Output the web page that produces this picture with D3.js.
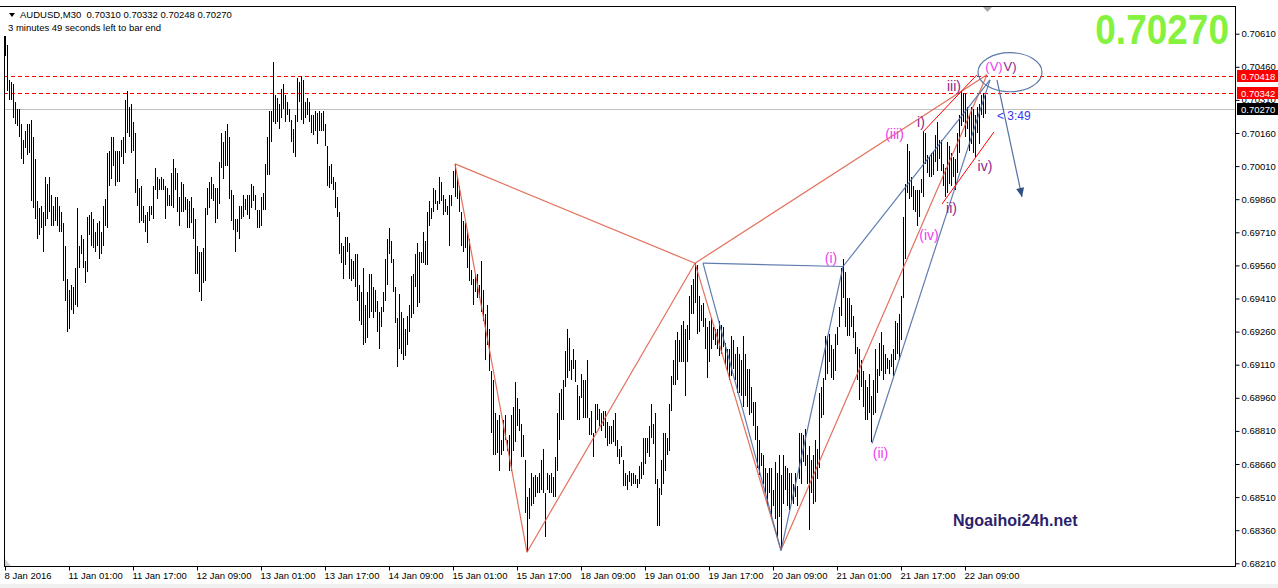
<!DOCTYPE html>
<html><head><meta charset="utf-8">
<script src="https://cdn.jsdelivr.net/npm/d3@7"></script>
<style>
html,body{margin:0;padding:0;background:#fff;overflow:hidden;}
svg{display:block;}
text{font-family:"Liberation Sans",Arial,sans-serif;}
</style></head><body>
<svg id="c" width="1278" height="588"></svg>
<script>
// ---- data (AUDUSD M30, bar highs / lows) ----
const highs = [
0.7060,0.7056,0.7040,0.7039,0.7038,0.7030,0.7027,0.7027,0.7020,0.7013,
0.7017,0.7020,0.7020,0.7022,0.7014,0.7004,0.6985,0.6982,0.6983,0.6980,
0.6996,0.6993,0.6996,0.6988,0.6983,0.6987,0.6987,0.6983,0.6980,0.6975,
0.6965,0.6950,0.6945,0.6947,0.6946,0.6955,0.6982,0.6965,0.6970,0.6968,
0.6958,0.6978,0.6979,0.6980,0.6977,0.6971,0.6975,0.6976,0.6971,0.6983,
0.6986,0.7007,0.7008,0.7014,0.7014,0.7008,0.7008,0.7008,0.7013,0.7014,
0.7031,0.7035,0.7028,0.7029,0.7021,0.7016,0.6995,0.6991,0.6992,0.6983,
0.6979,0.6980,0.6983,0.6983,0.6992,0.7000,0.6996,0.6995,0.6996,0.6995,
0.6992,0.6991,0.6988,0.6998,0.7004,0.7000,0.6998,0.6987,0.6994,0.6993,
0.6987,0.6986,0.6985,0.6987,0.6982,0.6977,0.6965,0.6962,0.6962,0.6964,
0.6982,0.6991,0.6994,0.6996,0.6993,0.6991,0.6991,0.7003,0.7016,0.7012,
0.7017,0.7020,0.7014,0.6990,0.6988,0.6977,0.6977,0.6983,0.6983,0.6988,
0.6986,0.6988,0.6988,
0.6993,0.6992,0.6988,0.6981,0.6981,0.6987,0.6989,0.7002,0.7014,0.7026,
0.7026,0.7048,0.7033,0.7032,0.7029,0.7036,0.7038,0.7033,0.7030,0.7027,
0.7022,0.7018,0.7024,0.7041,0.7039,0.7042,0.7040,0.7030,0.7032,0.7030,
0.7024,0.7024,0.7026,0.7025,0.7026,0.7025,0.7026,0.7020,0.7010,0.7001,
0.7002,0.6996,0.6994,0.6987,0.6980,0.6966,0.6965,0.6969,0.6969,0.6966,
0.6959,0.6958,0.6961,0.6961,0.6947,0.6944,0.6955,0.6938,0.6944,0.6952,
0.6952,0.6946,0.6945,0.6940,0.6935,0.6937,0.6944,0.6959,0.6968,0.6973,
0.6967,0.6959,0.6946,0.6932,0.6943,0.6935,0.6932,0.6927,0.6933,0.6938,
0.6951,0.6952,0.6961,0.6966,0.6962,0.6962,0.6971,0.6967,0.6980,0.6985,
0.6982,0.6991,0.6990,0.6985,0.6996,0.6994,0.6988,0.6986,0.6983,0.6988,
0.6988,0.6999,0.7002,0.6996,0.6992,0.6980,0.6976,0.6975,0.6972,0.6968,
0.6954,0.6950,0.6952,0.6952,0.6947,0.6958,0.6945,0.6934,0.6938,0.6927,
0.6908,0.6904,0.6889,0.6886,0.6888,0.6877,0.6886,0.6888,0.6877,0.6879,
0.6888,0.6892,0.6903,0.6896,0.6891,0.6884,0.6879,0.6868,0.6851,0.6855,
0.6862,0.6860,0.6861,0.6860,0.6862,0.6868,0.6873,0.6853,0.6862,0.6861,
0.6862,0.6860,0.6869,0.6889,0.6898,0.6900,0.6904,0.6917,0.6927,0.6923,
0.6913,0.6918,0.6913,0.6902,0.6897,0.6907,0.6904,0.6904,0.6913,0.6887,
0.6890,0.6880,0.6893,0.6893,0.6891,0.6889,0.6890,0.6890,0.6885,0.6883,
0.6883,0.6886,0.6889,0.6877,0.6873,0.6874,0.6868,0.6862,0.6861,0.6863,
0.6862,0.6862,0.6861,0.6859,0.6865,0.6867,0.6878,0.6878,0.6878,0.6883,
0.6893,0.6884,0.6889,0.6859,0.6855,0.6868,0.6880,0.6880,0.6878,0.6893,
0.6906,0.6913,0.6922,0.6926,0.6922,0.6929,0.6931,0.6927,0.6929,0.6942,
0.6947,0.6950,0.6957,0.6956,0.6942,0.6938,0.6939,0.6932,0.6928,0.6931,
0.6932,0.6928,0.6927,0.6927,0.6931,0.6929,0.6928,0.6921,0.6918,0.6918,
0.6924,0.6922,0.6916,0.6919,0.6916,0.6913,0.6924,0.6916,0.6909,0.6909,
0.6901,0.6894,0.6894,0.6883,0.6877,0.6871,0.6870,0.6864,0.6862,0.6864,
0.6864,0.6854,0.6867,0.6862,0.6870,0.6861,0.6870,0.6865,0.6864,0.6862,
0.6862,0.6857,0.6862,0.6856,0.6880,0.6880,0.6879,0.6882,0.6870,0.6874,
0.6868,0.6870,0.6877,0.6873,0.6898,0.6901,0.6905,0.6924,0.6924,0.6925,
0.6920,0.6918,0.6925,0.6928,0.6937,0.6955,0.6959,0.6953,0.6941,0.6941,
0.6938,0.6933,0.6926,0.6919,0.6918,0.6913,0.6908,0.6904,0.6901,0.6907,
0.6897,0.6904,0.6918,0.6909,0.6921,0.6926,0.6920,0.6916,0.6914,0.6913,
0.6916,0.6918,0.6931,0.6930,0.6934,0.6942,0.6978,0.6993,0.7011,0.7008,
0.6996,0.6992,0.6990,0.6990,0.6990,0.6995,0.7017,0.7016,0.7006,0.7005,
0.7007,0.7008,0.7015,0.7021,0.7013,0.7013,0.7002,0.7000,0.7012,0.7010,
0.7007,0.7005,0.7004,0.7016,0.7024,0.7035,0.7034,0.7034,0.7028,0.7024,
0.7028,0.7027,0.7024,0.7028,0.7029,0.7033,0.7034,0.70332
];
const lows = [
0.7051,0.7035,0.7031,0.7031,0.7023,0.7020,0.7019,0.7014,0.7004,0.7002,
0.7009,0.7006,0.7007,0.6985,0.6982,0.6977,0.6968,0.6970,0.6973,0.6962,
0.6974,0.6977,0.6980,0.6974,0.6974,0.6976,0.6974,0.6971,0.6971,0.6949,
0.6940,0.6926,0.6927,0.6936,0.6934,0.6938,0.6937,0.6955,0.6961,0.6955,
0.6948,0.6953,0.6970,0.6965,0.6964,0.6962,0.6965,0.6959,0.6961,0.6965,
0.6974,0.6973,0.6992,0.6995,0.7001,0.6992,0.6994,0.6994,0.7005,0.7002,
0.7007,0.7016,0.7014,0.7007,0.7008,0.6989,0.6983,0.6975,0.6976,0.6975,
0.6971,0.6966,0.6976,0.6979,0.6977,0.6990,0.6986,0.6990,0.6990,0.6990,
0.6977,0.6983,0.6983,0.6983,0.6982,0.6990,0.6980,0.6974,0.6980,0.6980,
0.6981,0.6973,0.6973,0.6975,0.6968,0.6952,0.6952,0.6944,0.6940,0.6948,
0.6949,0.6979,0.6982,0.6986,0.6985,0.6975,0.6977,0.6984,0.7000,0.6995,
0.7001,0.7001,0.6986,0.6976,0.6972,0.6962,0.6971,0.6968,0.6977,0.6978,
0.6981,0.6979,0.6977,
0.6982,0.6985,0.6981,0.6973,0.6973,0.6974,0.6981,0.6981,0.6997,0.6997,
0.7012,0.7021,0.7020,0.7021,0.7018,0.7023,0.7027,0.7021,0.7024,0.7021,
0.7012,0.7007,0.7005,0.7021,0.7030,0.7022,0.7020,0.7023,0.7024,0.7021,
0.7016,0.7015,0.7017,0.7011,0.7017,0.7017,0.7017,0.7010,0.6992,0.6991,
0.6993,0.6990,0.6982,0.6978,0.6961,0.6957,0.6950,0.6956,0.6962,0.6950,
0.6949,0.6950,0.6946,0.6940,0.6931,0.6929,0.6920,0.6921,0.6923,0.6932,
0.6935,0.6932,0.6935,0.6926,0.6918,0.6928,0.6935,0.6940,0.6947,0.6961,
0.6957,0.6944,0.6930,0.6910,0.6918,0.6916,0.6913,0.6915,0.6920,0.6926,
0.6932,0.6934,0.6946,0.6937,0.6939,0.6957,0.6957,0.6956,0.6956,0.6974,
0.6977,0.6980,0.6984,0.6981,0.6984,0.6985,0.6979,0.6980,0.6979,0.6965,
0.6983,0.6991,0.6987,0.6986,0.6980,0.6965,0.6962,0.6964,0.6955,0.6949,
0.6947,0.6938,0.6944,0.6941,0.6941,0.6935,0.6931,0.6913,0.6920,0.6908,
0.6880,0.6870,0.6870,0.6871,0.6863,0.6870,0.6872,0.6877,0.6872,0.6863,
0.6863,0.6872,0.6876,0.6883,0.6881,0.6869,0.6869,0.6844,0.6826,0.6841,
0.6847,0.6848,0.6851,0.6853,0.6853,0.6854,0.6853,0.6833,0.6854,0.6853,
0.6853,0.6851,0.6851,0.6863,0.6877,0.6886,0.6886,0.6901,0.6905,0.6908,
0.6904,0.6909,0.6903,0.6886,0.6886,0.6896,0.6887,0.6887,0.6887,0.6879,
0.6879,0.6869,0.6880,0.6886,0.6883,0.6881,0.6883,0.6878,0.6874,0.6875,
0.6875,0.6876,0.6874,0.6869,0.6866,0.6869,0.6856,0.6856,0.6854,0.6858,
0.6856,0.6857,0.6857,0.6855,0.6857,0.6859,0.6861,0.6866,0.6871,0.6869,
0.6878,0.6875,0.6857,0.6838,0.6838,0.6852,0.6857,0.6863,0.6870,0.6872,
0.6890,0.6902,0.6902,0.6904,0.6912,0.6912,0.6912,0.6897,0.6912,0.6922,
0.6934,0.6934,0.6939,0.6925,0.6926,0.6931,0.6928,0.6918,0.6905,0.6912,
0.6918,0.6922,0.6920,0.6918,0.6915,0.6916,0.6919,0.6911,0.6908,0.6904,
0.6906,0.6909,0.6904,0.6898,0.6898,0.6897,0.6892,0.6897,0.6892,0.6888,
0.6889,0.6883,0.6877,0.6864,0.6861,0.6865,0.6857,0.6853,0.6847,0.6853,
0.6842,0.6847,0.6841,0.6832,0.6842,0.6828,0.6848,0.6854,0.6847,0.6845,
0.6848,0.6848,0.6851,0.6847,0.6859,0.6857,0.6867,0.6865,0.6857,0.6836,
0.6853,0.6848,0.6849,0.6859,0.6864,0.6887,0.6888,0.6904,0.6907,0.6912,
0.6905,0.6904,0.6908,0.6920,0.6928,0.6933,0.6941,0.6928,0.6924,0.6924,
0.6928,0.6923,0.6916,0.6904,0.6895,0.6901,0.6892,0.6886,0.6886,0.6889,
0.6876,0.6888,0.6889,0.6898,0.6906,0.6908,0.6904,0.6907,0.6909,0.6907,
0.6910,0.6906,0.6913,0.6916,0.6913,0.6922,0.6941,0.6959,0.6989,0.6986,
0.6987,0.6981,0.6980,0.6974,0.6978,0.6989,0.6987,0.7002,0.6998,0.6996,
0.6996,0.6997,0.7003,0.6999,0.7004,0.6999,0.6992,0.6987,0.6989,0.6993,
0.6992,0.6996,0.6990,0.6998,0.7007,0.7019,0.7021,0.7014,0.7018,0.7008,
0.7011,0.7007,0.7005,0.7016,0.7011,0.7024,0.7023,0.70248
];
const timeLabels = ["8 Jan 2016","11 Jan 01:00","11 Jan 17:00","12 Jan 09:00","13 Jan 01:00",
  "13 Jan 17:00","14 Jan 09:00","15 Jan 01:00","15 Jan 17:00","18 Jan 09:00","19 Jan 01:00",
  "19 Jan 17:00","20 Jan 09:00","21 Jan 01:00","21 Jan 17:00","22 Jan 09:00"];
const timeTickBars = [0,32,64,96,128,160,192,224,256,288,320,352,384,416,448,480];
const priceTicks = [0.70610,0.70460,0.70310,0.70160,0.70010,0.69860,0.69710,0.69560,0.69410,
  0.69260,0.69110,0.68960,0.68810,0.68660,0.68510,0.68360,0.68210];
const headerText = "AUDUSD,M30  0.70310 0.70332 0.70248 0.70270";
const timerText = "3 minutes 49 seconds left to bar end";
const lastPrice = 0.70270;
const levelPrices = [0.70418, 0.70342];
// harmonic pattern X A B C D  (bar index, price)
const redPattern = [[225,0.70020],[261,0.68260],[345,0.69570],[388,0.68270],[491,0.70424]];
// blue pattern points: B', C, (i), (ii), end
const bluePattern = [[349,0.69570],[388,0.68267],[419,0.69555],[433.5,0.68753],[492.5,0.70401]];
// bright red channel segments
const channelLines = [[[459,0.70165],[486,0.70424]],[[468.5,0.69838],[494.5,0.70165]]];
const arrowLine = [[496,0.70400],[508.5,0.69870]];
const ellipseBox = [[486.5,0.70347],[518.5,0.70524]];
const waveLabels = [
  {t:"(i)",b:413,p:0.69595,c:"#f03cf0",s:14},{t:"(ii)",b:437.75,p:0.68710,c:"#f03cf0",s:14},
  {t:"(iii)",b:444.75,p:0.70157,c:"#f03cf0",s:14},{t:"(iv)",b:462,p:0.69697,c:"#f03cf0",s:14},
  {t:"(V)",b:494.5,p:0.70461,c:"#f03cf0",s:13},
  {t:"i)",b:458,p:0.70209,c:"#8e1f8e",s:14},{t:"ii)",b:473.25,p:0.69819,c:"#8e1f8e",s:14},
  {t:"iii)",b:474.5,p:0.70375,c:"#8e1f8e",s:14},{t:"iv)",b:490,p:0.70010,c:"#8e1f8e",s:14},
  {t:"V)",b:502.5,p:0.70461,c:"#8e1f8e",s:13}
];

// ---- layout ----
const W = 1278, H = 588;
const P = {left:4, right:1235, top:6, bottom:566};
const svg = d3.select("#c");
const x = d3.scaleLinear().domain([0,615]).range([5,1235]);
const y = d3.scaleLinear().domain([0.68210,0.70610]).range([563.3,33.7]);

svg.append("rect").attr("width",W).attr("height",H).attr("fill","#fff");
svg.append("defs").append("clipPath").attr("id","clip")
  .append("rect").attr("x",P.left).attr("y",P.top).attr("width",P.right-P.left).attr("height",P.bottom-P.top);

const plot = svg.append("g").attr("clip-path","url(#clip)");

// price level lines
plot.append("line").attr("x1",P.left).attr("x2",P.right)
  .attr("y1",Math.round(y(lastPrice))+0.5).attr("y2",Math.round(y(lastPrice))+0.5)
  .attr("stroke","#c0c0c0").attr("stroke-width",1);
plot.selectAll("line.lvl").data(levelPrices).join("line").attr("class","lvl")
  .attr("x1",P.left).attr("x2",P.right)
  .attr("y1",d=>Math.round(y(d))+0.5).attr("y2",d=>Math.round(y(d))+0.5)
  .attr("stroke","#ff0000").attr("stroke-width",1).attr("stroke-dasharray","4,3");

// bars
plot.append("g").attr("shape-rendering","crispEdges").selectAll("rect").data(highs).join("rect")
  .attr("x",(d,i)=>Math.round(x(i)))
  .attr("y",d=>Math.round(y(d)))
  .attr("width",1)
  .attr("height",(d,i)=>Math.max(1,Math.round(y(lows[i]))-Math.round(y(d))))
  .attr("fill","#000");

// left edge line from first bar
svg.append("rect").attr("x",4).attr("y",Math.round(y(highs[0]))).attr("width",1)
  .attr("height",P.bottom-Math.round(y(highs[0]))).attr("fill","#000");

// annotation lines
const pt = d=>[x(d[0]),y(d[1])];
const seg = (g,a,b,col,w,op)=>g.append("line").attr("x1",pt(a)[0]).attr("y1",pt(a)[1])
  .attr("x2",pt(b)[0]).attr("y2",pt(b)[1]).attr("stroke",col).attr("stroke-width",w).attr("stroke-opacity",op);
const ann = plot.append("g");
const [X,A,B,C,D] = redPattern;
const red = "#e0604a";
[[X,A],[A,B],[X,B],[B,C],[C,D],[B,D]].forEach(s=>seg(ann,s[0],s[1],red,1.2,0.9));
const [B2,C2,I1,I2,E] = bluePattern;
const blue = "#4f6fa6";
[[B2,I1],[B2,C2],[C2,I1],[I1,E],[I2,E]].forEach(s=>seg(ann,s[0],s[1],blue,1.2,0.9));
channelLines.forEach(s=>seg(ann,s[0],s[1],"#ff0000",1,1));
// arrow
seg(ann,arrowLine[0],arrowLine[1],"#4a6a9e",1.2,0.95);
{
  const [x1,y1] = pt(arrowLine[0]), [x2,y2] = pt(arrowLine[1]);
  const ang = Math.atan2(y2-y1,x2-x1), L=9, Wd=4;
  const bx = x2-L*Math.cos(ang), by = y2-L*Math.sin(ang);
  ann.append("path").attr("d",`M${x2},${y2}L${bx-Wd*Math.sin(ang)},${by+Wd*Math.cos(ang)}L${bx+Wd*Math.sin(ang)},${by-Wd*Math.cos(ang)}Z`)
    .attr("fill","#2f4f80");
}
// ellipse
{
  const [a,b] = ellipseBox;
  const cx=(x(a[0])+x(b[0]))/2, cy=(y(a[1])+y(b[1]))/2;
  ann.append("ellipse").attr("cx",cx).attr("cy",cy)
    .attr("rx",Math.abs(x(b[0])-x(a[0]))/2).attr("ry",Math.abs(y(b[1])-y(a[1]))/2)
    .attr("fill","none").attr("stroke","#5a78a8").attr("stroke-width",1.2);
}
// wave labels
ann.selectAll("text.w").data(waveLabels).join("text").attr("class","w")
  .attr("x",d=>x(d.b)).attr("y",d=>y(d.p)).attr("text-anchor","middle")
  .attr("dominant-baseline","central").attr("font-size",d=>d.s).attr("fill",d=>d.c).text(d=>d.t);
// timer label
ann.append("text").attr("x",x(496)).attr("y",y(0.70237)).attr("dominant-baseline","central")
  .attr("font-size",12).attr("fill","#3535f5").text("< 3:49");

// frame
svg.append("line").attr("x1",0).attr("x2",P.right+0.5).attr("y1",P.top+0.5).attr("y2",P.top+0.5).attr("stroke","#000");
svg.append("line").attr("x1",P.right+0.5).attr("x2",P.right+0.5).attr("y1",P.top).attr("y2",P.bottom+1).attr("stroke","#000");
svg.append("line").attr("x1",P.left).attr("x2",P.right+1).attr("y1",P.bottom+0.5).attr("y2",P.bottom+0.5).attr("stroke","#000");

// price axis
const yAxis = d3.axisRight(y).tickValues(priceTicks).tickSize(4).tickSizeOuter(0).tickFormat(d3.format(".5f"));
const ya = svg.append("g").attr("transform",`translate(${P.right+0.5},0)`).call(yAxis);
ya.select(".domain").remove();
ya.selectAll("text").attr("x",6).attr("font-size",9.5).attr("font-family","Liberation Sans, Arial, sans-serif").attr("fill","#000");

// time axis
const xAxis = d3.axisBottom(x).tickValues(timeTickBars).tickSize(4).tickSizeOuter(0).tickFormat((d,i)=>timeLabels[i]);
const xa = svg.append("g").attr("transform",`translate(0,${P.bottom+0.5})`).call(xAxis);
xa.select(".domain").remove();
xa.selectAll("text").attr("text-anchor","start").attr("x",-1).attr("y",6)
  .attr("font-size",9.5).attr("font-family","Liberation Sans, Arial, sans-serif").attr("fill","#000");

// price boxes
levelPrices.forEach(p=>{
  const yy = Math.round(y(p));
  svg.append("rect").attr("x",P.right+2).attr("y",yy-6).attr("width",41).attr("height",12).attr("fill","#ff0000");
  svg.append("text").attr("x",P.right+6).attr("y",yy).attr("dominant-baseline","central")
    .attr("font-size",9.5).attr("fill","#fff").text(d3.format(".5f")(p));
});
{
  const yy = Math.round(y(lastPrice));
  svg.append("rect").attr("x",P.right+2).attr("y",yy-6).attr("width",41).attr("height",12).attr("fill","#000");
  svg.append("text").attr("x",P.right+6).attr("y",yy).attr("dominant-baseline","central")
    .attr("font-size",9.5).attr("fill","#fff").text(d3.format(".5f")(lastPrice));
}

// header
svg.append("path").attr("d","M9,13L15,13L12,17Z").attr("fill","#000");
svg.append("text").attr("x",20).attr("y",17.5).attr("font-size",9.5).attr("fill","#000")
  .attr("xml:space","preserve").style("white-space","pre").text(headerText);
svg.append("text").attr("x",8).attr("y",31).attr("font-size",9.5).attr("fill","#000").text(timerText);

// big price
svg.append("text").attr("transform","translate(1229,44) scale(1,1.13)").attr("text-anchor","end")
  .attr("font-size",37).attr("font-weight","bold").attr("fill","#84f23e")
  .text(d3.format(".5f")(lastPrice));

// watermark
svg.append("text").attr("x",953).attr("y",526).attr("font-size",16).attr("font-weight","bold")
  .attr("fill","#2c1f6b").text("Ngoaihoi24h.net");

// shift marker
svg.append("path").attr("d","M983,7L992,7L987.5,12Z").attr("fill","#a8a8a8");
svg.append("path").attr("d","M5,566L5,559L11,566Z").attr("fill","#d0d0d0");
// bottom strip
svg.append("rect").attr("x",0).attr("y",584).attr("width",W).attr("height",4).attr("fill","#f0f0f0");
</script>
</body></html>
